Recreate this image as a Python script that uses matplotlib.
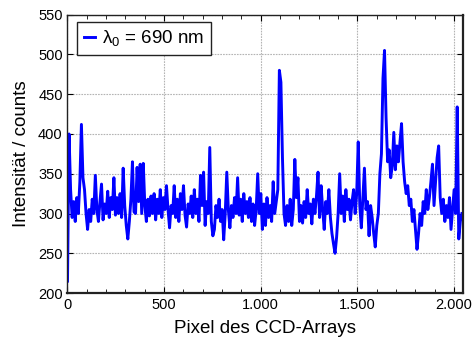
import numpy as np
import matplotlib.pyplot as plt
from matplotlib.ticker import MultipleLocator, FuncFormatter

plt.rcParams['font.family'] = ['Liberation Sans', 'DejaVu Sans']
plt.rcParams['mathtext.fontset'] = 'custom'
plt.rcParams['mathtext.rm'] = 'Liberation Sans'
plt.rcParams['mathtext.it'] = 'Liberation Sans'

# Spectrum, sampled every 8 pixels of the CCD
pixel_step = 8
counts = [
    215, 400, 330, 295, 315, 290, 320, 300, 340, 412, 345, 330, 300, 280, 305, 290,
    318, 300, 348, 305, 290, 315, 337, 292, 312, 300, 328, 295, 320, 305, 345, 298,
    320, 300, 325, 295, 357, 310, 285, 268, 290, 318, 365, 302, 300, 358, 315, 362,
    300, 363, 310, 290, 318, 297, 322, 300, 325, 292, 318, 300, 330, 295, 320, 305,
    335, 305, 282, 310, 300, 335, 295, 318, 290, 325, 305, 335, 298, 283, 312, 300,
    322, 295, 330, 300, 318, 290, 348, 310, 352, 285, 315, 300, 383, 290, 272, 280,
    310, 295, 318, 290, 305, 267, 300, 352, 305, 282, 310, 295, 320, 300, 345, 298,
    318, 290, 325, 300, 315, 295, 320, 290, 312, 285, 305, 350, 300, 325, 280, 312,
    285, 320, 295, 310, 290, 340, 300, 315, 330, 480, 465, 370, 300, 285, 310, 290,
    318, 285, 305, 368, 320, 345, 290, 310, 288, 315, 295, 330, 300, 312, 287, 318,
    300, 322, 352, 295, 335, 305, 280, 315, 300, 330, 295, 275, 262, 250, 270, 300,
    350, 300, 322, 290, 330, 305, 318, 292, 315, 330, 300, 325, 390, 310, 282, 320,
    357, 305, 315, 272, 310, 295, 275, 258, 285, 300, 350, 375, 470, 505, 420, 365,
    380, 345, 360, 402, 355, 385, 365, 390, 413, 365, 340, 325, 335, 310, 318, 290,
    305, 280, 255, 275, 300, 285, 315, 300, 330, 305, 320, 340, 362, 310, 340, 370,
    385, 320, 300, 318, 290, 310, 295, 320, 280, 305, 330, 300, 434, 268, 290, 300,
]
pixels = np.arange(len(counts)) * pixel_step

fig = plt.figure(figsize=(4.73, 3.4), dpi=100)
ax = fig.add_axes([0.1427, 0.138, 0.837, 0.819])

ax.plot(pixels, counts, color='#0000ff', lw=2.1, label=r'λ$_0$ = 690 nm')

ax.set_xlim(0, 2048)
ax.set_ylim(200, 550)
ax.xaxis.set_major_locator(MultipleLocator(500))
ax.xaxis.set_minor_locator(MultipleLocator(100))
ax.yaxis.set_major_locator(MultipleLocator(50))
ax.xaxis.set_major_formatter(FuncFormatter(lambda v, p: f'{int(v):,}'.replace(',', '.')))

ax.tick_params(which='both', direction='in', top=True, right=True, labelsize=10.5)
ax.tick_params(which='major', length=4)
ax.tick_params(which='minor', length=3)
ax.grid(True, which='major', color='#b4b4b4', ls=(0, (1.5, 1)), lw=0.8)

for s in ax.spines.values():
    s.set_color('#222222')
    s.set_linewidth(1.0)
ax.spines['bottom'].set_linewidth(1.6)
ax.spines['right'].set_linewidth(1.6)

ax.set_xlabel('Pixel des CCD-Arrays', fontsize=13.5, labelpad=6)
ax.set_ylabel('Intensität / counts', fontsize=13.5, labelpad=6)

leg = ax.legend(loc='upper left', bbox_to_anchor=(0.024, 0.975), borderaxespad=0,
                fontsize=13.5, handlelength=0.6, handletextpad=0.4, fancybox=False,
                framealpha=1, edgecolor='#222222', borderpad=0.35)
leg.get_frame().set_linewidth(1.0)

fig.savefig('out.png', dpi=100)
